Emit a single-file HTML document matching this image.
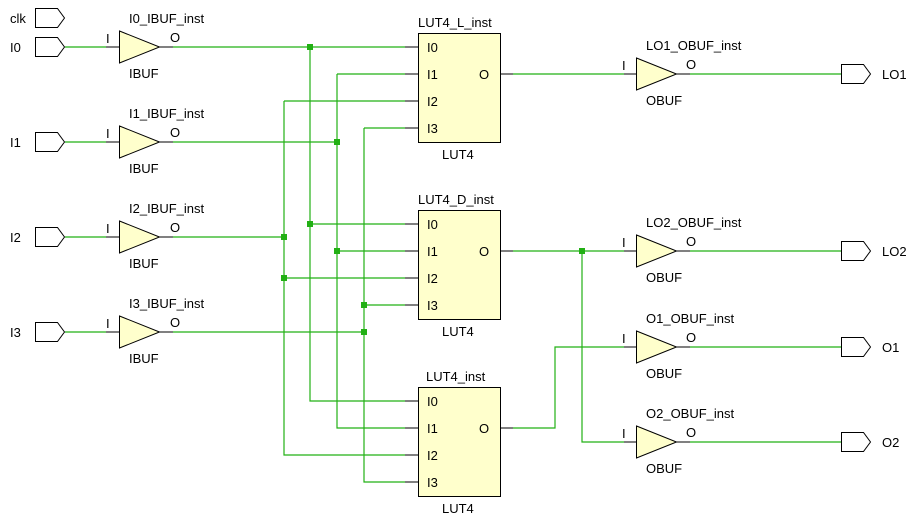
<!DOCTYPE html>
<html><head><style>html,body{margin:0;padding:0;background:#fff;}svg{display:block;font-family:"Liberation Sans",Arial,sans-serif;font-size:13px;}</style></head>
<body>
<svg width="912" height="518" viewBox="0 0 912 518" xmlns="http://www.w3.org/2000/svg">
<defs>
<g id="ip"><path d="M35.5,-9.5 H57.5 L64.5,0 L57.5,9.5 H35.5 Z" fill="#fff" stroke="#000"/></g>
<g id="op"><path d="M841.5,-9.5 H863.5 L870.5,0 L863.5,9.5 H841.5 Z" fill="#fff" stroke="#000"/></g>
<g id="ib"><line x1="106" y1="0" x2="119" y2="0" stroke="#000"/><path d="M119.5,-16 L159.5,0 L119.5,16 Z" fill="#ffffcc" stroke="#000"/><line x1="159" y1="0" x2="173" y2="0" stroke="#000"/><text x="106" y="-4">I</text><text x="170" y="-5">O</text></g>
<g id="ob"><line x1="624" y1="0" x2="636" y2="0" stroke="#000"/><path d="M636.5,-16 L676.5,0 L636.5,16 Z" fill="#ffffcc" stroke="#000"/><line x1="676" y1="0" x2="690" y2="0" stroke="#000"/><text x="622" y="-4">I</text><text x="686" y="-5">O</text></g>
<g id="lut"><rect x="418.5" y="0.5" width="82" height="109" fill="#ffffcc" stroke="#000"/>
<g stroke="#000"><line x1="405" y1="14" x2="418" y2="14"/><line x1="405" y1="41" x2="418" y2="41"/><line x1="405" y1="68" x2="418" y2="68"/><line x1="405" y1="95" x2="418" y2="95"/><line x1="500" y1="41" x2="513" y2="41"/></g>
<text x="427" y="19">I0</text><text x="427" y="46">I1</text><text x="427" y="73">I2</text><text x="427" y="100">I3</text><text x="479" y="46">O</text><text x="442" y="126">LUT4</text></g>
</defs>
<g fill="#000">
<text x="10" y="23">clk</text><use href="#ip" y="18"/>
<text x="10" y="52">I0</text><use href="#ip" y="47"/>
<text x="10" y="147">I1</text><use href="#ip" y="142"/>
<text x="10" y="242">I2</text><use href="#ip" y="237"/>
<text x="10" y="337">I3</text><use href="#ip" y="332"/>
</g>
<g stroke="#22b014" stroke-width="1.2" fill="none">
<path d="M65,47H106 M65,142H106 M65,237H106 M65,332H106"/>
<path d="M173,47H405 M173,142H337 M173,237H284 M173,332H364"/>
<path d="M310,47V401H405 M337,74V428H405 M284,101V455H405 M364,128V482H405"/>
<path d="M337,74H405 M284,101H405 M364,128H405"/>
<path d="M310,224H405 M337,251H405 M284,278H405 M364,305H405"/>
<path d="M513,74H624 M513,251H624 M582,251V442H624 M513,428H555V347H624"/>
<path d="M690,74H841 M690,251H841 M690,347H841 M690,442H841"/>
</g>
<g fill="#22b014">
<rect x="307" y="44" width="6" height="6"/><rect x="334" y="139" width="6" height="6"/><rect x="281" y="234" width="6" height="6"/><rect x="361" y="329" width="6" height="6"/>
<rect x="307" y="221" width="6" height="6"/><rect x="334" y="248" width="6" height="6"/><rect x="281" y="275" width="6" height="6"/><rect x="361" y="302" width="6" height="6"/>
<rect x="579" y="248" width="6" height="6"/>
</g>
<g fill="#000">
<use href="#ib" y="47"/><text x="129" y="23">I0_IBUF_inst</text><text x="129" y="78">IBUF</text>
<use href="#ib" y="142"/><text x="129" y="118">I1_IBUF_inst</text><text x="129" y="173">IBUF</text>
<use href="#ib" y="237"/><text x="129" y="213">I2_IBUF_inst</text><text x="129" y="268">IBUF</text>
<use href="#ib" y="332"/><text x="129" y="308">I3_IBUF_inst</text><text x="129" y="363">IBUF</text>
<use href="#lut" y="33"/><text x="418" y="27">LUT4_L_inst</text>
<use href="#lut" y="210"/><text x="418" y="204">LUT4_D_inst</text>
<use href="#lut" y="387"/><text x="426" y="381">LUT4_inst</text>
<use href="#ob" y="74"/><text x="646" y="50">LO1_OBUF_inst</text><text x="646" y="105">OBUF</text>
<use href="#ob" y="251"/><text x="646" y="227">LO2_OBUF_inst</text><text x="646" y="282">OBUF</text>
<use href="#ob" y="347"/><text x="646" y="323">O1_OBUF_inst</text><text x="646" y="378">OBUF</text>
<use href="#ob" y="442"/><text x="646" y="418">O2_OBUF_inst</text><text x="646" y="473">OBUF</text>
<use href="#op" y="74"/><text x="882" y="79">LO1</text>
<use href="#op" y="251"/><text x="882" y="256">LO2</text>
<use href="#op" y="347"/><text x="882" y="352">O1</text>
<use href="#op" y="442"/><text x="882" y="447">O2</text>
</g>
</svg>
</body></html>
